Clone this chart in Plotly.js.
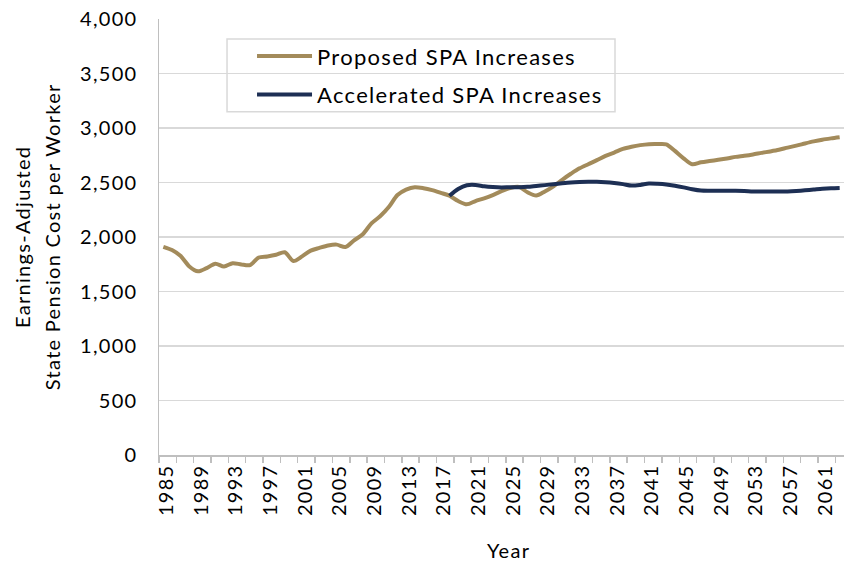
<!DOCTYPE html>
<html>
<head>
<meta charset="utf-8">
<script src="https://cdn.plot.ly/plotly-3.0.1.min.js"></script>
<style>
html,body{margin:0;padding:0;background:#fff;}
#chart{width:844px;height:566px;}
svg text{letter-spacing:1.3px;}
</style>
</head>
<body>
<div id="chart"></div>
<script>
const years = [];
for (let y = 1985; y <= 2063; y++) years.push(y);

const proposed = [
  1910, 1880, 1825, 1730, 1685, 1715, 1755, 1730, 1760, 1748,
  1742, 1812, 1822, 1837, 1860, 1780, 1822, 1875, 1900, 1922,
  1930, 1908, 1970, 2025, 2125, 2190, 2275, 2385, 2435, 2457,
  2448, 2430, 2405, 2378, 2330, 2300, 2330, 2355, 2385, 2420,
  2450, 2460, 2410, 2380, 2418, 2465, 2525, 2580, 2630, 2668,
  2705, 2745, 2775, 2808, 2828, 2843, 2852, 2853, 2850, 2790,
  2722, 2668, 2685, 2697, 2708, 2720, 2735, 2745, 2757, 2772,
  2785, 2800, 2820, 2838, 2858, 2877, 2893, 2905, 2915
];

const accelYears = years.filter(y => y >= 2018);
const accelerated = [
  2378, 2440, 2475, 2478, 2465, 2458, 2455, 2457, 2457, 2460,
  2468, 2476, 2485, 2493, 2500, 2504, 2506, 2506, 2502, 2495,
  2485, 2472, 2478, 2490, 2488, 2482, 2470, 2455, 2438, 2426,
  2424, 2424, 2424, 2424, 2422, 2418, 2417, 2417, 2417, 2418,
  2422, 2428, 2435, 2442, 2447, 2450
];

const tickYears = [];
for (let y = 1985; y <= 2061; y += 4) tickYears.push(y);

const seriesNames = ['Proposed SPA Increases', 'Accelerated SPA Increases'];
const yTitleLines = ['Earnings-Adjusted', 'State Pension Cost per Worker'];
const xTitle = 'Year';
const FONT = 'Lato, "Open Sans", sans-serif';

const traces = [
  {x: years, y: proposed, name: seriesNames[0], type: 'scatter', mode: 'lines', legendgroup: 'a',
   line: {color: '#A38B5B', width: 4, shape: 'spline', smoothing: 0.8}},
  {x: accelYears, y: accelerated, name: seriesNames[1], type: 'scatter', mode: 'lines', legendgroup: 'b',
   line: {color: '#1D2F54', width: 4, shape: 'spline', smoothing: 0.8}}
];

const txt = {family: FONT, size: 20, color: '#000'};

const layout = {
  width: 844, height: 566,
  margin: {l: 159, r: 0, t: 19, b: 111},
  paper_bgcolor: '#fff', plot_bgcolor: '#fff',
  font: txt,
  showlegend: true,
  legend: {x: 0.1358, y: 0.963, xanchor: 'left', yanchor: 'top',
           bgcolor: 'rgba(0,0,0,0)', borderwidth: 0,
           font: {family: FONT, size: 22, color: '#000'},
           traceorder: 'grouped', tracegroupgap: 7, itemwidth: 55},
  shapes: [
    {type: 'rect', xref: 'paper', yref: 'paper', x0: 0.0993, x1: 0.6657, y0: 0.787, y1: 0.954,
     fillcolor: '#fff', line: {color: '#d9d9d9', width: 1.5}, layer: 'below'}
  ],
  xaxis: {
    range: [1984.5, 2063.5], type: 'linear',
    tickmode: 'array', tickvals: tickYears, ticktext: tickYears.map(String),
    tickangle: -90, ticks: '', showgrid: false, zeroline: false,
    showline: true, linecolor: '#bfbfbf', linewidth: 1.5,
    ticklabelshift: 3,
    tickfont: txt,
    minor: {tickmode: 'linear', tick0: 1984.5, dtick: 2, ticks: 'outside', ticklen: 6,
            tickcolor: '#bfbfbf', tickwidth: 1.5, showgrid: false}
  },
  yaxis: {
    range: [0, 4000], dtick: 500, tick0: 0, tickformat: ',d',
    showgrid: true, gridcolor: '#d9d9d9', gridwidth: 1.5, zeroline: false,
    showline: true, linecolor: '#bfbfbf', linewidth: 1.5, ticks: '',
    ticklabelstandoff: 16,
    tickfont: txt
  },
  annotations: [
    {text: yTitleLines[0], xref: 'paper', yref: 'paper', x: -0.2, y: 0.5,
     xanchor: 'center', yanchor: 'middle', textangle: -90, showarrow: false, font: txt},
    {text: yTitleLines[1], xref: 'paper', yref: 'paper', x: -0.156, y: 0.5,
     xanchor: 'center', yanchor: 'middle', textangle: -90, showarrow: false, font: txt},
    {text: xTitle, xref: 'paper', yref: 'paper', x: 0.51, y: -0.218,
     xanchor: 'center', yanchor: 'middle', showarrow: false, font: txt}
  ]
};

Plotly.newPlot('chart', traces, layout, {staticPlot: true, displayModeBar: false});
</script>
</body>
</html>
